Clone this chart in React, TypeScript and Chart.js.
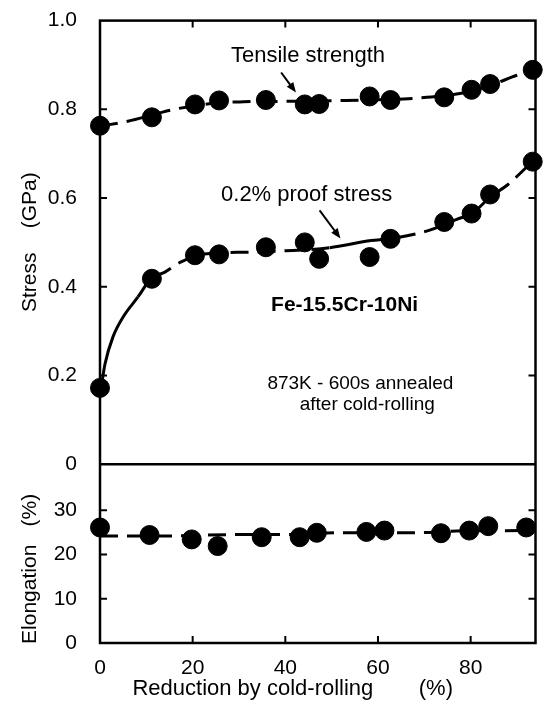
import React, { useEffect, useRef } from 'react';
import { Chart, registerables } from 'chart.js';

Chart.register(...registerables);

// ---- data ----
const strengthReduction = [0, 11.2, 20.5, 25.7, 35.8, 44.2, 47.3, 58.2, 62.7, 74.3, 80.2, 84.2, 93.4];
const tensileStrength = [0.763, 0.782, 0.811, 0.82, 0.821, 0.811, 0.812, 0.829, 0.821, 0.827, 0.844, 0.857, 0.889];
const proofStress = [0.172, 0.418, 0.471, 0.473, 0.489, 0.5, 0.463, 0.467, 0.508, 0.546, 0.565, 0.608, 0.682];

const elongationReduction = [0, 10.7, 19.8, 25.4, 34.9, 43.1, 46.8, 57.5, 61.4, 73.6, 79.7, 83.8, 92.0];
const elongation = [26.1, 24.4, 23.4, 21.9, 23.9, 23.9, 24.9, 25.1, 25.4, 24.8, 25.4, 26.4, 26.1];

// trend curves drawn in the reference
const tensileTrendX = [0, 6, 16, 25, 31, 40, 53, 68, 78, 84, 89, 94];
const tensileTrend = [0.762, 0.773, 0.8, 0.814, 0.817, 0.818, 0.82, 0.825, 0.836, 0.853, 0.873, 0.893];
const proofTrendX = [0.5, 1.1, 2.8, 5, 8.2, 11, 14, 17.5, 22.5, 32, 40, 49.6, 58.5, 62.6, 71, 77, 80.4, 84.3, 88, 93.4];
const proofTrend = [0.19, 0.227, 0.287, 0.332, 0.377, 0.418, 0.433, 0.456, 0.474, 0.478, 0.481, 0.488, 0.504, 0.508, 0.527, 0.552, 0.566, 0.603, 0.63, 0.683];
const elongationTrendX = [0, 15, 30, 40, 52, 68, 77, 94];
const elongationTrend = [24.2, 24.2, 24.5, 24.5, 24.9, 24.9, 25.3, 25.4];

const xTicks = [0, 20, 40, 60, 80];
const stressTicks = [0, 0.2, 0.4, 0.6, 0.8, 1.0];
const elongationTicks = [0, 10, 20, 30];

const FONT = '"Liberation Sans", Arial, Helvetica, sans-serif';
const SHIFT = 15; // canvas is moved up so that the plot frame starts at y = 20

const pts = (xs: number[], ys: number[]) => xs.map((x, i) => ({ x, y: ys[i] }));

function arrow(ctx: CanvasRenderingContext2D, x1: number, y1: number, x2: number, y2: number) {
  const ang = Math.atan2(y2 - y1, x2 - x1);
  const hl = 10, hw = 4;
  ctx.beginPath();
  ctx.moveTo(x1, y1);
  ctx.lineTo(x2 - Math.cos(ang) * hl * 0.8, y2 - Math.sin(ang) * hl * 0.8);
  ctx.stroke();
  ctx.beginPath();
  ctx.moveTo(x2, y2);
  ctx.lineTo(x2 - Math.cos(ang) * hl - Math.sin(ang) * hw, y2 - Math.sin(ang) * hl + Math.cos(ang) * hw);
  ctx.lineTo(x2 - Math.cos(ang) * hl + Math.sin(ang) * hw, y2 - Math.sin(ang) * hl - Math.cos(ang) * hw);
  ctx.closePath();
  ctx.fill();
}

const framePlugin = {
  id: 'frame',
  beforeDatasetsDraw(chart: any) {
    const { ctx, chartArea: a, scales } = chart;
    const x = scales.x, yt = scales.yTop, yb = scales.yBot;
    ctx.save();
    ctx.strokeStyle = '#000';
    ctx.lineWidth = 2.5;
    ctx.strokeRect(a.left, a.top, a.right - a.left, a.bottom - a.top);
    const sep = yt.getPixelForValue(0);
    ctx.beginPath();
    ctx.moveTo(a.left, sep);
    ctx.lineTo(a.right, sep);
    ctx.stroke();
    const tl = 7;
    ctx.lineWidth = 2;
    ctx.beginPath();
    xTicks.forEach((v) => {
      if (v === 0) return;
      const px = x.getPixelForValue(v);
      ctx.moveTo(px, a.top); ctx.lineTo(px, a.top + tl);
      ctx.moveTo(px, a.bottom); ctx.lineTo(px, a.bottom - tl);
    });
    stressTicks.forEach((v) => {
      if (v === 0 || v === 1) return;
      const py = yt.getPixelForValue(v);
      ctx.moveTo(a.left, py); ctx.lineTo(a.left + tl, py);
      ctx.moveTo(a.right, py); ctx.lineTo(a.right - tl, py);
    });
    elongationTicks.forEach((v) => {
      if (v === 0) return;
      const py = yb.getPixelForValue(v);
      ctx.moveTo(a.left, py); ctx.lineTo(a.left + tl, py);
      ctx.moveTo(a.right, py); ctx.lineTo(a.right - tl, py);
    });
    ctx.stroke();
    ctx.restore();
  },
  afterDraw(chart: any) {
    const { ctx, chartArea: a, scales } = chart;
    const x = scales.x, yt = scales.yTop, yb = scales.yBot;
    const P = (vx: number, vy: number) => [x.getPixelForValue(vx), yt.getPixelForValue(vy)];
    ctx.save();
    ctx.fillStyle = '#000';
    ctx.strokeStyle = '#000';
    ctx.textAlign = 'center';
    ctx.textBaseline = 'middle';

    ctx.font = `22px ${FONT}`;
    let p = P(44.9, 0.921);
    ctx.fillText('Tensile strength', p[0], p[1]);
    p = P(44.6, 0.606);
    ctx.fillText('0.2% proof stress', p[0], p[1]);

    ctx.font = `bold 21px ${FONT}`;
    p = P(52.8, 0.358);
    ctx.fillText('Fe-15.5Cr-10Ni', p[0], p[1]);

    ctx.font = `19px ${FONT}`;
    p = P(56.2, 0.182);
    ctx.fillText('873K - 600s annealed', p[0], p[1]);
    p = P(57.7, 0.133);
    ctx.fillText('after cold-rolling', p[0], p[1]);

    ctx.lineWidth = 2;
    let s = P(39.1, 0.883), e = P(42.3, 0.838);
    arrow(ctx, s[0], s[1], e[0], e[1]);
    s = P(47.4, 0.572); e = P(51.9, 0.509);
    arrow(ctx, s[0], s[1], e[0], e[1]);

    // axis titles
    ctx.font = `22px ${FONT}`;
    const xt = a.bottom + 46;
    ctx.fillText('Reduction by cold-rolling', x.getPixelForValue(33), xt);
    ctx.fillText('(%)', x.getPixelForValue(72.5), xt);

    ctx.font = `21px ${FONT}`;
    const tx = 30;
    ctx.save();
    ctx.translate(tx, yt.getPixelForValue(0.41));
    ctx.rotate(-Math.PI / 2);
    ctx.fillText('Stress', 0, 0);
    ctx.restore();
    ctx.save();
    ctx.translate(tx, yt.getPixelForValue(0.595));
    ctx.rotate(-Math.PI / 2);
    ctx.fillText('(GPa)', 0, 0);
    ctx.restore();
    ctx.save();
    ctx.translate(tx, yb.getPixelForValue(11));
    ctx.rotate(-Math.PI / 2);
    ctx.fillText('Elongation', 0, 0);
    ctx.restore();
    ctx.save();
    ctx.translate(tx, yb.getPixelForValue(30));
    ctx.rotate(-Math.PI / 2);
    ctx.fillText('(%)', 0, 0);
    ctx.restore();

    ctx.restore();
  },
};

export default function App() {
  const ref = useRef<HTMLCanvasElement | null>(null);
  useEffect(() => {
    if (!ref.current) return;
    const dash = [18, 9];
    const chart = new Chart(ref.current, {
      type: 'scatter',
      data: {
        datasets: [
          {
            data: pts(tensileTrendX, tensileTrend), yAxisID: 'yTop', showLine: true,
            borderColor: '#000', borderWidth: 3, borderDash: dash, pointRadius: 0,
            cubicInterpolationMode: 'monotone', clip: false,
          },
          {
            data: pts(proofTrendX, proofTrend), yAxisID: 'yTop', showLine: true,
            borderColor: '#000', borderWidth: 3, borderDash: dash, pointRadius: 0,
            cubicInterpolationMode: 'monotone', clip: false,
            segment: {
              borderDash: (c: any) =>
                c.p1.parsed.x <= 8.3 || (c.p0.parsed.x >= 49.5 && c.p1.parsed.x <= 58.6) ? [] : dash,
            },
          },
          {
            data: pts(elongationTrendX, elongationTrend), yAxisID: 'yBot', showLine: true,
            borderColor: '#000', borderWidth: 3, borderDash: dash, pointRadius: 0,
            cubicInterpolationMode: 'monotone', clip: false,
          },
          {
            data: pts(strengthReduction, tensileStrength), yAxisID: 'yTop', showLine: false,
            pointRadius: 9.5, pointBackgroundColor: '#000', pointBorderColor: '#000', clip: false,
          },
          {
            data: pts(strengthReduction, proofStress), yAxisID: 'yTop', showLine: false,
            pointRadius: 9.5, pointBackgroundColor: '#000', pointBorderColor: '#000', clip: false,
          },
          {
            data: pts(elongationReduction, elongation), yAxisID: 'yBot', showLine: false,
            pointRadius: 9.5, pointBackgroundColor: '#000', pointBorderColor: '#000', clip: false,
          },
        ],
      },
      options: {
        responsive: false,
        animation: false,
        devicePixelRatio: 1,
        events: [],
        layout: { padding: { top: 5, right: 6, left: 0, bottom: 0 } },
        plugins: { legend: { display: false }, tooltip: { enabled: false } },
        scales: {
          x: {
            type: 'linear', position: 'bottom', min: 0, max: 94,
            afterBuildTicks: (s: any) => { s.ticks = xTicks.map((v) => ({ value: v })); },
            afterFit: (s: any) => { s.height = 66; },
            grid: { display: false, drawTicks: false },
            border: { display: false },
            ticks: { color: '#000', font: { size: 21, family: FONT }, padding: 13, maxRotation: 0 },
          },
          yBot: {
            type: 'linear', position: 'left', stack: 'v', stackWeight: 179, min: 0, max: 40.4,
            afterBuildTicks: (s: any) => { s.ticks = elongationTicks.map((v) => ({ value: v })); },
            afterFit: (s: any) => { s.width = 100; },
            grid: { display: false, drawTicks: false },
            border: { display: false },
            ticks: { color: '#000', font: { size: 21, family: FONT }, padding: 23 },
          },
          yTop: {
            type: 'linear', position: 'left', stack: 'v', stackWeight: 444, min: 0, max: 1,
            afterBuildTicks: (s: any) => { s.ticks = stressTicks.map((v) => ({ value: v })); },
            afterFit: (s: any) => { s.width = 100; },
            grid: { display: false, drawTicks: false },
            border: { display: false },
            ticks: {
              color: '#000', font: { size: 21, family: FONT }, padding: 23,
              callback: (v: any) => (Number(v) === 0 ? '0' : Number(v).toFixed(1)),
            },
          },
        },
      },
      plugins: [framePlugin],
    } as any);
    return () => chart.destroy();
  }, []);
  return (
    <div style={{ position: 'fixed', left: 0, top: 0, width: 546, height: 709, background: '#fff', overflow: 'hidden' }}>
      <canvas
        ref={ref}
        width={546}
        height={709 + SHIFT}
        style={{ display: 'block', position: 'absolute', left: 0, top: -SHIFT, width: 546, height: 709 + SHIFT }}
      />
    </div>
  );
}
